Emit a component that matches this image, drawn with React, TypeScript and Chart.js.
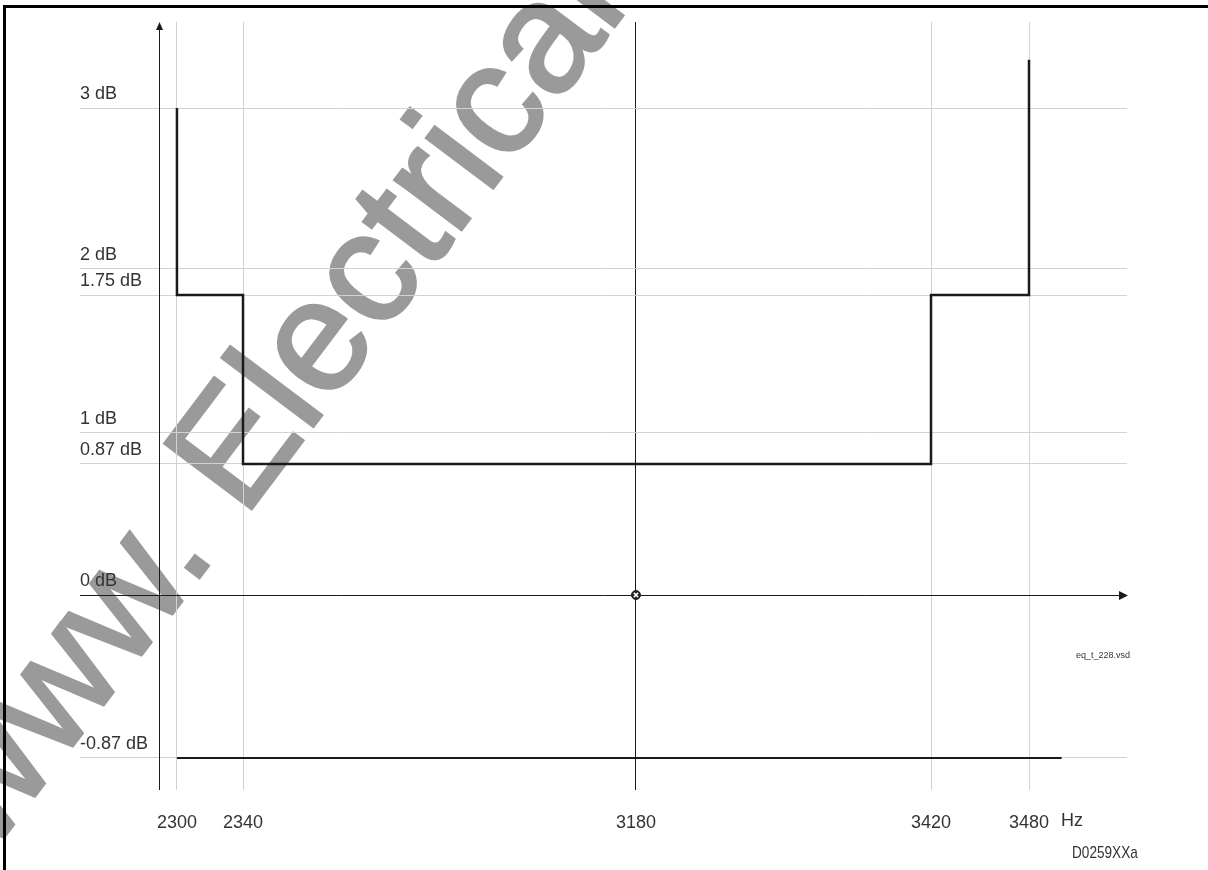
import React, { useEffect, useRef } from 'react';
import { Chart, LinearScale, registerables } from 'chart.js';

// ---- data ----
const freqTicks = [2300, 2340, 3180, 3420, 3480];
const dbTicks = [3, 2, 1.75, 1, 0.87, 0, -0.87];
const upperFreq = [2300, 2300, 2340, 2340, 3420, 3420, 3480, 3480];
const upperDb = [3, 1.75, 1.75, 0.87, 0.87, 1.75, 1.75, 3.3];
const lowerFreq = [2300, 3500];
const lowerDb = [-0.87, -0.87];
const originFreq = [3180];
const originDb = [0];
const yAxisFreq = 2289;
const xUnit = 'Hz';
const drawingId = 'D0259XXa';
const fileName = 'eq_t_228.vsd';
const watermark = 'www. Electrical';

// ---- schematic (not to scale) axis layout: fraction of the plot area for each labelled value ----
const xKnotFractions = [0.0926, 0.1557, 0.531, 0.8128, 0.9064];
const yKnotFractions = [0.888, 0.6784, 0.6445, 0.4661, 0.4245, 0.2539, 0.0417];

type Knot = { v: number; f: number };
const makeKnots = (vals: number[], fr: number[]): Knot[] =>
  vals.map((v, i) => ({ v, f: fr[i] })).sort((a, b) => a.v - b.v);
const knotTable: Record<string, Knot[]> = {
  x: makeKnots(freqTicks, xKnotFractions),
  y: makeKnots(dbTicks, yKnotFractions),
};

function interp(k: Knot[], value: number, from: 'v' | 'f', to: 'v' | 'f') {
  const n = k.length;
  let i = 0;
  if (value >= k[n - 1][from]) i = n - 2;
  else if (value > k[0][from]) {
    while (i < n - 2 && value > k[i + 1][from]) i++;
  }
  const a = k[i];
  const b = k[i + 1];
  return a[to] + ((value - a[from]) * (b[to] - a[to])) / (b[from] - a[from]);
}

class PiecewiseScale extends LinearScale {
  static id = 'piecewise';
  getPixelForValue(value: any) {
    if (value === null || value === undefined || isNaN(value)) return NaN;
    return this.getPixelForDecimal(interp(knotTable[(this as any).id], +value, 'v', 'f'));
  }
  getValueForPixel(pixel: number) {
    return interp(knotTable[(this as any).id], this.getDecimalForPixel(pixel), 'f', 'v');
  }
}

Chart.register(...registerables, PiecewiseScale as any);

const FONT = '"Liberation Sans", Arial, Helvetica, sans-serif';
const INK = '#1a1a1a';
const GRID = '#d2d2d2';

const decorPlugin = {
  id: 'decor',
  beforeDraw(chart: any) {
    const ctx = chart.ctx;
    ctx.save();
    ctx.fillStyle = '#fff';
    ctx.fillRect(0, 0, chart.width, chart.height);
    // watermark
    const size = 158;
    ctx.font = `${size}px ${FONT}`;
    ctx.fillStyle = '#9a9a9a';
    ctx.strokeStyle = '#9a9a9a';
    ctx.lineWidth = 3;
    ctx.lineJoin = 'miter';
    const ang = (-53 * Math.PI) / 180;
    const bx = Math.cos(ang);
    const by = Math.sin(ang);
    const ux = Math.sin(ang);
    const uy = -Math.cos(ang);
    const wWww = ctx.measureText('www').width;
    const wDot = ctx.measureText('.').width;
    const along = wWww + wDot / 2;
    const up = 0.05 * size;
    const px = 203;
    const py = 560;
    ctx.translate(px - bx * along - ux * up, py - by * along - uy * up);
    ctx.rotate(ang);
    ctx.textAlign = 'left';
    ctx.textBaseline = 'alphabetic';
    ctx.fillText(watermark, 0, 0);
    ctx.strokeText(watermark, 0, 0);
    ctx.restore();
  },
  beforeDatasetsDraw(chart: any) {
    const { ctx, chartArea, scales } = chart;
    const x = scales.x;
    const y = scales.y;
    ctx.save();
    ctx.strokeStyle = INK;
    ctx.fillStyle = INK;
    ctx.lineWidth = 1;
    // y axis line with arrow
    const ax = Math.round(x.getPixelForValue(yAxisFreq)) + 0.5;
    ctx.beginPath();
    ctx.moveTo(ax, chartArea.bottom);
    ctx.lineTo(ax, chartArea.top + 4);
    ctx.stroke();
    ctx.beginPath();
    ctx.moveTo(ax, chartArea.top);
    ctx.lineTo(ax - 3.5, chartArea.top + 8);
    ctx.lineTo(ax + 3.5, chartArea.top + 8);
    ctx.closePath();
    ctx.fill();
    // x axis arrow
    const ay = Math.round(y.getPixelForValue(0)) + 0.5;
    ctx.beginPath();
    ctx.moveTo(chartArea.right + 1, ay);
    ctx.lineTo(chartArea.right - 8, ay - 4.5);
    ctx.lineTo(chartArea.right - 8, ay + 4.5);
    ctx.closePath();
    ctx.fill();
    ctx.restore();
  },
  afterDraw(chart: any) {
    const { ctx, scales } = chart;
    const x = scales.x;
    ctx.save();
    ctx.fillStyle = '#333';
    ctx.textBaseline = 'middle';
    ctx.textAlign = 'left';
    ctx.font = `18px ${FONT}`;
    const lastTick = freqTicks[freqTicks.length - 1];
    const labelY = x.top + 31;
    ctx.fillText(xUnit, x.getPixelForValue(lastTick) + 32, labelY);
    // file name
    ctx.font = `9px ${FONT}`;
    ctx.textAlign = 'center';
    ctx.fillText(fileName, 1103, 656);
    // drawing id (condensed)
    ctx.save();
    ctx.font = `17px ${FONT}`;
    ctx.textAlign = 'left';
    ctx.translate(1072, 853);
    ctx.scale(0.8, 1);
    ctx.fillText(drawingId, 0, 0);
    ctx.restore();
    // frame (top and left edges)
    ctx.fillStyle = '#000';
    ctx.fillRect(3, 5, 3, chart.height - 5);
    ctx.fillRect(3, 5, chart.width - 3, 3);
    ctx.restore();
  },
};

export default function App() {
  const ref = useRef<HTMLCanvasElement | null>(null);
  useEffect(() => {
    if (!ref.current) return;
    const chart = new Chart(ref.current, {
      type: 'line',
      data: {
        datasets: [
          {
            label: 'upper limit',
            data: upperFreq.map((f, i) => ({ x: f, y: upperDb[i] })),
            borderColor: INK,
            borderWidth: 2.5,
            pointRadius: 0,
            fill: false,
            tension: 0,
            order: 3,
          },
          {
            label: 'lower limit',
            data: lowerFreq.map((f, i) => ({ x: f, y: lowerDb[i] })),
            borderColor: INK,
            borderWidth: 2,
            pointRadius: 0,
            fill: false,
            tension: 0,
            order: 3,
          },
          {
            label: 'origin',
            data: originFreq.map((f, i) => ({ x: f, y: originDb[i] })),
            showLine: false,
            pointStyle: 'circle',
            pointRadius: 4.5,
            backgroundColor: '#222',
            borderColor: '#222',
            borderWidth: 1,
            order: 2,
          },
          {
            label: 'origin cross',
            data: originFreq.map((f, i) => ({ x: f, y: originDb[i] })),
            showLine: false,
            pointStyle: 'crossRot',
            pointRadius: 3,
            borderColor: '#fff',
            borderWidth: 1.5,
            order: 1,
          },
        ] as any,
      },
      options: {
        responsive: false,
        animation: false,
        devicePixelRatio: 1,
        events: [],
        layout: { padding: { left: 80, right: 81, top: 22, bottom: 20 } },
        plugins: {
          legend: { display: false },
          tooltip: { enabled: false },
          title: { display: false },
        },
        scales: {
          x: {
            type: 'piecewise' as any,
            position: 'bottom',
            min: 2240,
            max: 3540,
            afterBuildTicks: (s: any) => {
              s.ticks = freqTicks.map((v) => ({ value: v }));
            },
            afterFit: (s: any) => {
              s.height = 60;
            },
            border: { display: false },
            grid: {
              drawTicks: false,
              lineWidth: 1,
              color: (c: any) => (c.tick && c.tick.value === 3180 ? INK : GRID),
            },
            ticks: {
              autoSkip: false,
              maxRotation: 0,
              minRotation: 0,
              padding: 22.5,
              color: '#333',
              font: { family: FONT, size: 18 },
              callback: (v: any) => String(v),
            },
          },
          y: {
            type: 'piecewise' as any,
            position: 'left',
            min: -1.05,
            max: 3.7,
            afterBuildTicks: (s: any) => {
              s.ticks = dbTicks.map((v) => ({ value: v }));
            },
            afterFit: (s: any) => {
              s.width = 0;
            },
            border: { display: false },
            grid: {
              drawTicks: false,
              lineWidth: 1,
              color: (c: any) => (c.tick && c.tick.value === 0 ? INK : GRID),
            },
            ticks: {
              mirror: true,
              padding: 0,
              labelOffset: -13.5,
              autoSkip: false,
              color: '#333',
              font: { family: FONT, size: 18 },
              callback: (v: any) => `${v} dB`,
            },
          },
        } as any,
      },
      plugins: [decorPlugin],
    });
    return () => chart.destroy();
  }, []);
  return (
    <div style={{ position: 'absolute', left: 0, top: 0, width: 1208, height: 870, background: '#fff' }}>
      <canvas ref={ref} width={1208} height={870} style={{ display: 'block' }} />
    </div>
  );
}
